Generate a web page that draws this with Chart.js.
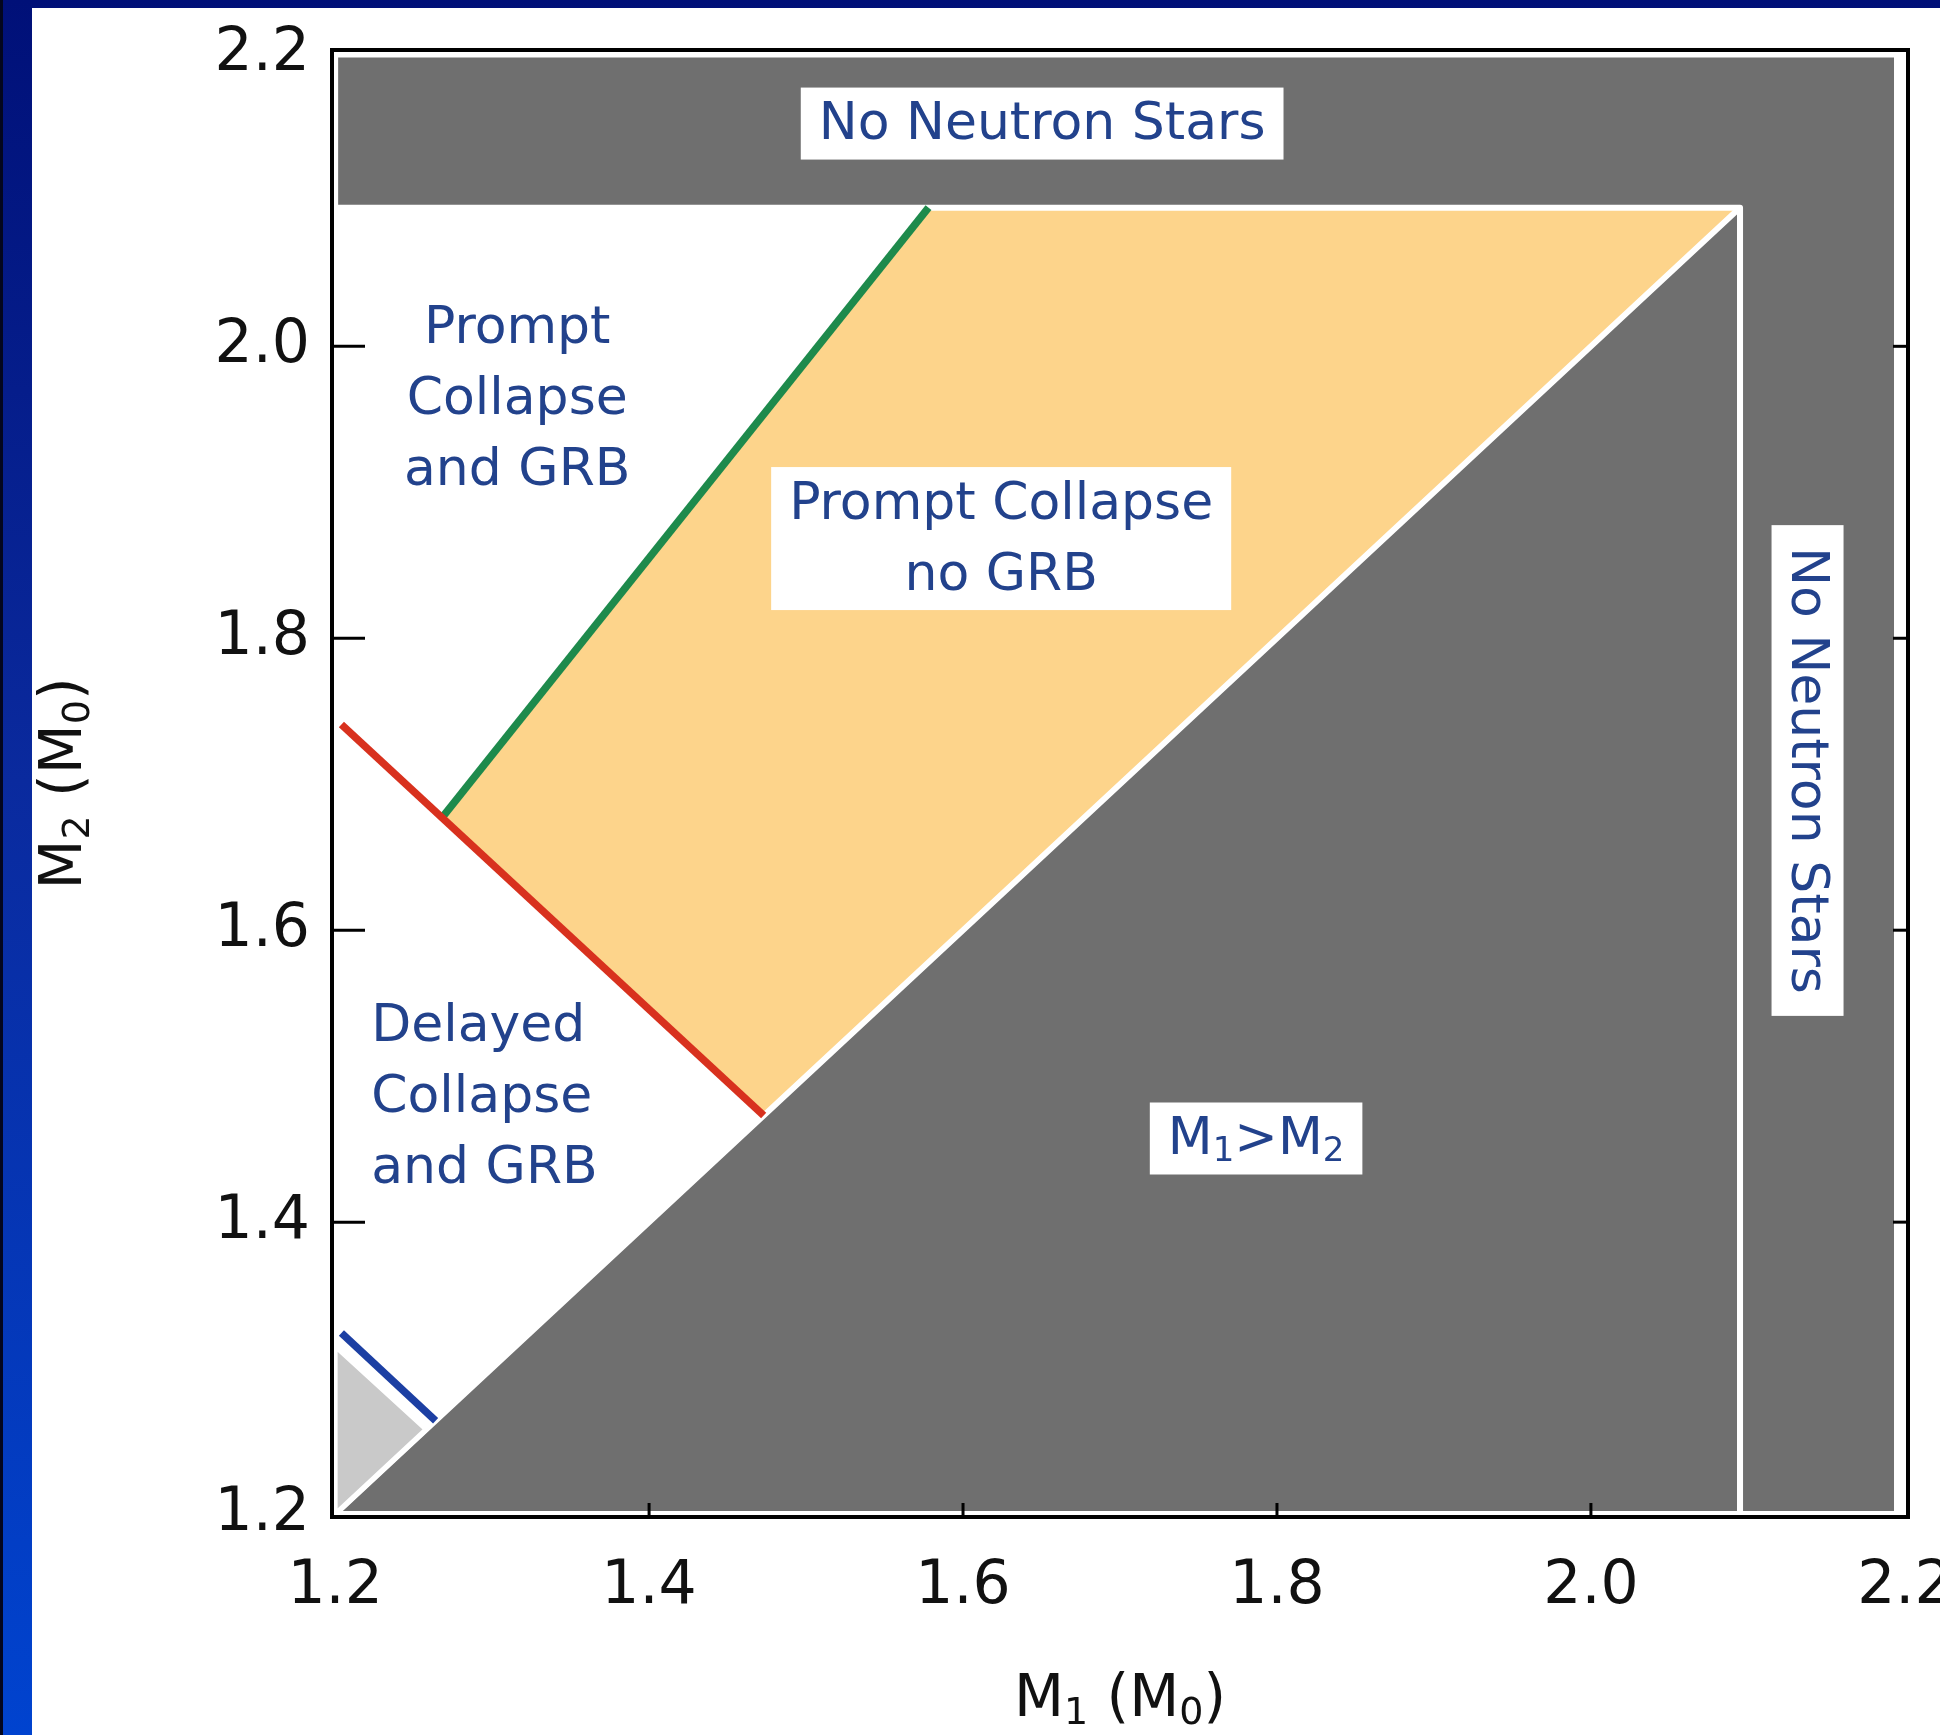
<!DOCTYPE html>
<html>
<head>
<meta charset="utf-8">
<script src="https://cdn.jsdelivr.net/npm/chart.js@4.4.1/dist/chart.umd.min.js"></script>
<style>
  html, body { margin:0; padding:0; }
  body { width:1940px; height:1735px; overflow:hidden; position:relative;
         background: linear-gradient(to bottom, #001078 0%, #0a2a9e 45%, #0043cf 100%); }
  #edge { position:absolute; left:0; top:0; width:3px; height:1735px; background:#03061e; }
  #contenedor_graf { position:absolute; left:32px; top:8px; width:1908px; height:1727px; background:#fff; }
</style>
</head>
<body>
<div id="edge"></div>
<div id="contenedor_graf"><canvas id="myChart" width="1908" height="1727"></canvas></div>
<script>
// axis ticks (solar masses)
var tickValues = [1.2, 1.4, 1.6, 1.8, 2.0, 2.2];
var xRange = [1.198, 2.202];
var yRange = [1.198, 2.203];
var xTitle = 'M_1 (M_0)';
var yTitle = 'M_2 (M_0)';

// regions, corners as [M1, M2]
var noNeutronStars = [[1.2, 2.2], [2.195, 2.2], [2.195, 1.2], [2.095, 1.2], [2.095, 2.095], [1.2, 2.095]];
var m1GreaterM2 = [[1.2, 1.2], [2.095, 2.095], [2.095, 1.2]];
var promptNoGrb = [[1.268, 1.677], [1.578, 2.095], [2.095, 2.095], [1.473, 1.473]];
var lowMass = [[1.2, 1.2], [1.2, 1.315], [1.258, 1.258]];

// boundary lines
var grbLine = [[1.268, 1.677], [1.578, 2.095]];
var promptLine = [[1.204, 1.741], [1.473, 1.473]];
var lowLine = [[1.204, 1.324], [1.264, 1.264]];

function puntos(arr, cerrar) {
    var p = arr.map(function(c){ return {x: c[0], y: c[1]}; });
    if (cerrar) p.push({x: arr[0][0], y: arr[0][1]});
    return p;
}

function region(arr, color, borde, ancho) {
    return {
        data: puntos(arr, true), showLine: true, fill: 'shape', tension: 0,
        backgroundColor: color, borderColor: borde, borderWidth: ancho,
        borderJoinStyle: 'round', borderCapStyle: 'round', pointRadius: 0
    };
}
function linea(arr, color) {
    return {
        data: puntos(arr, false), showLine: true, fill: false, tension: 0,
        borderColor: color, borderWidth: 7.5, pointRadius: 0
    };
}

// bottom to top
var capas = [
    region(promptNoGrb, '#fdd48b', 'rgba(0,0,0,0)', 1),
    region(m1GreaterM2, '#6f6f6f', '#ffffff', 6),
    region(noNeutronStars, '#6f6f6f', '#ffffff', 6),
    region(lowMass, '#c9c9c9', '#ffffff', 5),
    linea(grbLine, '#1e8a4c'),
    linea(promptLine, '#d8311e'),
    linea(lowLine, '#1c3fa3')
];
capas.forEach(function(d, i){ d.order = capas.length - i; });

// text notes: lines, M1, M2, boxed, rotated, align
var notas = [
    {t: ['No Neutron Stars'], x: 1.6504, y: 2.1526, caja: true},
    {t: ['Prompt', 'Collapse', 'and GRB'], x: 1.316, y: 1.9646},
    {t: ['Prompt Collapse', 'no GRB'], x: 1.6243, y: 1.8683, caja: true},
    {t: ['Delayed', 'Collapse', 'and GRB'], x: 1.223, y: 1.4864, align: 'left'},
    {t: ['M_1>M_2'], x: 1.7867, y: 1.4573, caja: true},
    {t: ['No Neutron Stars'], x: 2.138, y: 1.7094, caja: true, rot: true}
];

var FUENTE = '"DejaVu Sans", sans-serif';

// "M_1" -> M with subscript 1
function trozos(s) {
    var out = [];
    for (var i = 0; i < s.length; i++) {
        if (s[i] === '_' && i + 1 < s.length) { out.push({t: s[i + 1], sub: true}); i++; }
        else if (out.length && !out[out.length - 1].sub) out[out.length - 1].t += s[i];
        else out.push({t: s[i], sub: false});
    }
    return out;
}
function anchoRico(ctx, s, tam) {
    var w = 0;
    trozos(s).forEach(function(p){
        ctx.font = (p.sub ? Math.round(tam * 0.66) : tam) + 'px ' + FUENTE;
        w += ctx.measureText(p.t).width;
    });
    return w;
}
function textoRico(ctx, s, x, y, tam) {
    var px = x;
    trozos(s).forEach(function(p){
        ctx.font = (p.sub ? Math.round(tam * 0.66) : tam) + 'px ' + FUENTE;
        ctx.fillText(p.t, px, p.sub ? y + tam * 0.22 : y);
        px += ctx.measureText(p.t).width;
    });
}

var marco = {
    id: 'marco',
    afterDatasetsDraw: function(chart) {
        var ctx = chart.ctx, a = chart.chartArea;
        var sx = chart.scales.x, sy = chart.scales.y;
        ctx.save();
        ctx.strokeStyle = '#000';
        ctx.lineWidth = 3;
        tickValues.slice(1, -1).forEach(function(v){
            var py = sy.getPixelForValue(v);
            ctx.beginPath(); ctx.moveTo(a.left, py); ctx.lineTo(a.left + 33, py); ctx.stroke();
            ctx.beginPath(); ctx.moveTo(a.right, py); ctx.lineTo(a.right - 15, py); ctx.stroke();
            var px = sx.getPixelForValue(v);
            ctx.beginPath(); ctx.moveTo(px, a.bottom); ctx.lineTo(px, a.bottom - 14); ctx.stroke();
        });
        ctx.lineWidth = 4;
        ctx.strokeRect(a.left, a.top, a.right - a.left, a.bottom - a.top);

        // notes
        ctx.textBaseline = 'middle';
        ctx.textAlign = 'left';
        var salto = 71, tam = 52;
        notas.forEach(function(n){
            var cx = sx.getPixelForValue(n.x), cy = sy.getPixelForValue(n.y);
            var anchos = n.t.map(function(s){ return anchoRico(ctx, s, tam); });
            var w = Math.max.apply(null, anchos);
            var h = (n.t.length - 1) * salto;
            ctx.save();
            ctx.translate(cx, cy);
            if (n.rot) ctx.rotate(Math.PI / 2);
            if (n.caja) {
                var padX = n.rot ? 22 : 18;
                ctx.fillStyle = '#fff';
                ctx.fillRect(-w / 2 - padX, -h / 2 - 36, w + 2 * padX, h + 72);
            }
            ctx.fillStyle = '#22428c';
            n.t.forEach(function(s, i){
                var x0 = n.align === 'left' ? 0 : -anchos[i] / 2;
                textoRico(ctx, s, x0, -h / 2 + i * salto + 2, tam);
            });
            ctx.restore();
        });

        // axis titles
        ctx.fillStyle = '#111';
        var tt = 58;
        var wx = anchoRico(ctx, xTitle, tt);
        textoRico(ctx, xTitle, (a.left + a.right) / 2 - wx / 2, 1693, tt);
        var wy = anchoRico(ctx, yTitle, tt);
        ctx.save();
        ctx.translate(34, (a.top + a.bottom) / 2);
        ctx.rotate(-Math.PI / 2);
        textoRico(ctx, yTitle, -wy / 2, 0, tt);
        ctx.restore();
        ctx.restore();
    }
};

var ctx = document.getElementById('myChart');
var myChart = new Chart(ctx, {
    type: 'scatter',
    data: { datasets: capas },
    options: {
        responsive: false,
        animation: false,
        events: [],
        layout: { padding: { left: 0, top: 42, right: 32, bottom: 0 } },
        plugins: { legend: { display: false }, tooltip: { enabled: false } },
        scales: {
            x: {
                type: 'linear', min: xRange[0], max: xRange[1],
                afterBuildTicks: function(s){ s.ticks = tickValues.map(function(v){ return {value: v}; }); },
                afterFit: function(s){ s.height = 218; s.paddingLeft = 0; s.paddingRight = 0; },
                grid: { display: false, drawTicks: false },
                border: { display: false },
                ticks: { font: { family: FUENTE, size: 60 }, color: '#111', padding: 34, maxRotation: 0,
                         autoSkip: false, callback: function(v){ return Number(v).toFixed(1); } }
            },
            y: {
                type: 'linear', min: yRange[0], max: yRange[1],
                afterBuildTicks: function(s){ s.ticks = tickValues.map(function(v){ return {value: v}; }); },
                afterFit: function(s){ s.width = 300; s.paddingTop = 0; s.paddingBottom = 0; },
                grid: { display: false, drawTicks: false },
                border: { display: false },
                ticks: { font: { family: FUENTE, size: 60 }, color: '#111', padding: 22,
                         autoSkip: false, callback: function(v){ return Number(v).toFixed(1); } }
            }
        }
    },
    plugins: [marco]
});
</script>
</body>
</html>
